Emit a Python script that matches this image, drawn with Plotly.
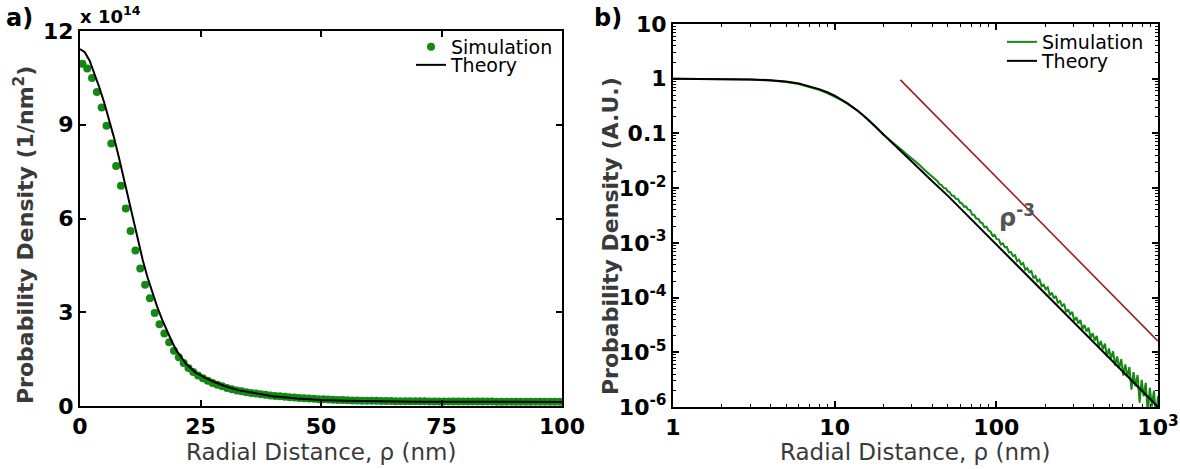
import numpy as np
import plotly.graph_objects as go

W, H = 1180, 469

# ---------------- data: panel a (linear) ----------------
sim_a_rho = np.arange(0.5, 100, 1.0)
sim_a = [10.95, 10.80, 10.50, 10.05, 9.55, 8.97, 8.40, 7.68, 7.05, 6.32,
         5.60, 4.98, 4.40, 3.88, 3.45, 2.98, 2.62, 2.32, 2.04, 1.77,
         1.56, 1.38, 1.22, 1.09, 0.98, 0.89, 0.81, 0.74, 0.68, 0.63,
         0.58, 0.54, 0.50, 0.47, 0.44, 0.42, 0.40, 0.38, 0.36, 0.34,
         0.32, 0.31, 0.30, 0.28, 0.27, 0.26, 0.25, 0.24, 0.23, 0.22,
         0.215, 0.21, 0.20, 0.195, 0.19, 0.185, 0.18, 0.175, 0.17, 0.17,
         0.165, 0.165, 0.16, 0.16, 0.16, 0.155, 0.155, 0.155, 0.15, 0.15,
         0.15, 0.15, 0.148, 0.148, 0.146, 0.146, 0.145, 0.145, 0.144, 0.144,
         0.143, 0.143, 0.142, 0.142, 0.141, 0.141, 0.140, 0.140, 0.140, 0.140,
         0.140, 0.139, 0.139, 0.139, 0.139, 0.138, 0.138, 0.138, 0.138, 0.138]

theo_a_rho = [0, 1, 2, 3, 4, 5, 6, 7, 8, 9, 10, 11, 12, 13, 14, 15, 16, 17, 18, 19,
              20, 22, 24, 26, 28, 30, 33, 36, 40, 45, 50, 55, 60, 70, 80, 90, 100]
theo_a = [11.42, 11.32, 11.05, 10.65, 10.2, 9.72, 9.2, 8.62, 8.0, 7.35, 6.65, 5.97,
          5.3, 4.68, 4.12, 3.62, 3.18, 2.78, 2.42, 2.08, 1.78, 1.35, 1.07, 0.9, 0.76,
          0.64, 0.5, 0.41, 0.31, 0.24, 0.19, 0.165, 0.15, 0.14, 0.135, 0.13, 0.13]

# ---------------- data: panel b (log-log) ----------------
sim_b_rho_head = [1, 2, 3, 4, 5, 6, 7, 8, 9, 10, 11, 12, 13, 14, 15, 16, 18, 20,
                  22, 24, 26, 28, 30, 33, 36, 39]
sim_b_head = [1.0, 0.99, 0.965, 0.93, 0.875, 0.80, 0.71, 0.625, 0.545, 0.47, 0.405,
              0.35, 0.30, 0.255, 0.215, 0.182, 0.131, 0.095, 0.076, 0.061, 0.050,
              0.041, 0.035, 0.0275, 0.0215, 0.0172]
sim_b_rho_tail = np.geomspace(42, 1000, 110)
sim_b_tail = [
    0.0140, 0.0134, 0.0118, 0.0114, 0.0101, 0.0100, 0.00880, 0.00841, 0.00733, 0.00729,
    0.00641, 0.00637, 0.00545, 0.00530, 0.00457, 0.00463, 0.00404, 0.00396, 0.00329, 0.00323,
    0.00279, 0.00277, 0.00237, 0.00230, 0.00193, 0.00197, 0.00168, 0.00161, 0.00134, 0.00140,
    0.00117, 0.00116, 0.000939, 0.000981, 0.000831, 0.000839, 0.000669, 0.000679, 0.000574, 0.000597,
    0.000462, 0.000492, 0.000401, 0.000426, 0.000322, 0.000345, 0.000289, 0.000306, 0.000225, 0.000247,
    0.000197, 0.000213, 0.000162, 0.000171, 0.000142, 0.000154, 0.000110, 0.000124, 9.67e-5, 1.07e-4,
    7.88e-5, 8.83e-5, 6.92e-5, 7.68e-5, 5.44e-5, 6.11e-5, 4.93e-5, 5.47e-5, 3.79e-5, 4.39e-5,
    3.37e-5, 3.89e-5, 2.64e-5, 3.16e-5, 2.40e-5, 2.80e-5, 1.84e-5, 2.23e-5, 1.64e-5, 2.00e-5,
    1.25e-5, 1.61e-5, 1.13e-5, 1.44e-5, 8.42e-6, 1.17e-5, 7.70e-6, 1.04e-5, 5.71e-6, 8.36e-6,
    5.11e-6, 7.50e-6, 3.76e-6, 6.00e-6, 3.52e-6, 5.37e-6, 2.08e-6, 4.34e-6, 2.39e-6, 3.84e-6,
    1.20e-6, 3.14e-6, 1.57e-6, 2.77e-6, 7.5e-7, 2.25e-6, 1.03e-6, 2.00e-6, 6.7e-7, 1.59e-6]

theo_b_rho = [1, 2, 3, 4, 5, 6, 7, 8, 9, 10, 12, 14, 16, 18, 20, 22, 25, 30, 35, 40, 50,
              70, 100, 150, 200, 300, 500, 700, 1000]
theo_b = [1.0, 0.99, 0.97, 0.94, 0.89, 0.82, 0.73, 0.645, 0.565, 0.49, 0.355, 0.255,
          0.182, 0.13, 0.094, 0.073, 0.05, 0.03, 0.0195, 0.0135, 0.0073, 0.0027, 9.5e-4,
          2.85e-4, 1.22e-4, 3.65e-5, 7.9e-6, 2.9e-6, 1.0e-6]

guide_rho = [25.5, 1000]
guide_val = [0.95, 1.6e-5]

x_ticks_a = [0, 25, 50, 75, 100]
y_ticks_a = [0, 3, 6, 9, 12]
x_ticks_b = [1, 10, 100, 1000]
x_ticktext_b = ["1", "10", "100", "10<sup>3</sup>"]
y_ticks_b = [1e-6, 1e-5, 1e-4, 1e-3, 1e-2, 0.1, 1, 10]
y_ticktext_b = ["10<sup>-6</sup>", "10<sup>-5</sup>", "10<sup>-4</sup>", "10<sup>-3</sup>",
                "10<sup>-2</sup>", "0.1", "1", "10"]

GREEN = "#128a12"
FONT = "DejaVu Sans"


def px(x):
    return x / W


def py(y):
    return 1 - y / H


fig = go.Figure()
fig.add_trace(go.Scatter(x=sim_a_rho, y=sim_a, mode="markers", name="Simulation",
                         marker=dict(color=GREEN, size=8), xaxis="x", yaxis="y",
                         legend="legend"))
fig.add_trace(go.Scatter(x=theo_a_rho, y=theo_a, mode="lines", name="Theory",
                         line=dict(color="black", width=2), xaxis="x", yaxis="y",
                         legend="legend2"))
fig.add_trace(go.Scatter(x=sim_b_rho_head + list(sim_b_rho_tail), y=sim_b_head + sim_b_tail,
                         mode="lines", name="Simulation",
                         line=dict(color=GREEN, width=2), xaxis="x2", yaxis="y2",
                         legend="legend3"))
fig.add_trace(go.Scatter(x=theo_b_rho, y=theo_b, mode="lines", name="Theory",
                         line=dict(color="black", width=2), xaxis="x2", yaxis="y2",
                         legend="legend4"))
fig.add_trace(go.Scatter(x=guide_rho, y=guide_val, mode="lines", showlegend=False,
                         line=dict(color="#a01e1e", width=1.6), xaxis="x2", yaxis="y2"))

tickfont = dict(family=FONT, size=22, color="black", weight="bold")
common = dict(showline=True, linecolor="black", linewidth=2, mirror="ticks",
              ticks="inside", ticklen=6, tickwidth=1.5, tickcolor="black",
              showgrid=False, zeroline=False, tickfont=tickfont, automargin=False)

minor_x = [m * d for d in (1, 10, 100) for m in range(2, 10)]
minor_y = [m * d for d in (1e-6, 1e-5, 1e-4, 1e-3, 1e-2, 0.1, 1) for m in range(2, 10)]

fig.update_layout(
    width=W, height=H, margin=dict(l=0, r=0, t=0, b=0, autoexpand=False),
    paper_bgcolor="white", plot_bgcolor="white",
    font=dict(family=FONT, color="black"),
    xaxis=dict(domain=[px(80), px(562)], range=[0, 100], tickvals=x_ticks_a,
               anchor="y", **common),
    yaxis=dict(domain=[py(406), py(31)], range=[0, 12], tickvals=y_ticks_a,
               anchor="x", **common),
    xaxis2=dict(domain=[px(673), px(1158)], type="log", range=[0, 3],
                tickvals=x_ticks_b, ticktext=x_ticktext_b, anchor="y2",
                minor=dict(ticks="inside", ticklen=3, tickwidth=1, tickcolor="black",
                           tickvals=minor_x),
                **common),
    yaxis2=dict(domain=[py(407), py(24)], type="log", range=[-6, 1],
                tickvals=y_ticks_b, ticktext=y_ticktext_b, anchor="x2",
                minor=dict(ticks="inside", ticklen=3, tickwidth=1, tickcolor="black",
                           tickvals=minor_y),
                **common),
)

leg_common = dict(bgcolor="rgba(0,0,0,0)", borderwidth=0, xanchor="left", yanchor="middle",
                  font=dict(family=FONT, size=19, color="black"))
fig.update_layout(
    legend=dict(x=px(411), y=py(47), **leg_common),
    legend2=dict(x=px(411), y=py(65), **leg_common),
    legend3=dict(x=px(1002), y=py(42), **leg_common),
    legend4=dict(x=px(1002), y=py(61), **leg_common),
)

title_font = dict(family=FONT, size=23, color="#3a3a3a")
ytitle_font = dict(family=FONT, size=22, color="#3a3a3a", weight="bold")
annos = [
    dict(x=px(4), y=py(18), text="a)", xanchor="left", yanchor="middle",
         font=dict(family=FONT, size=24, color="black", weight="bold")),
    dict(x=px(592), y=py(18), text="b)", xanchor="left", yanchor="middle",
         font=dict(family=FONT, size=24, color="black", weight="bold")),
    dict(x=px(78), y=py(15), text="x 10<sup>14</sup>", xanchor="left", yanchor="middle",
         font=dict(family=FONT, size=18, color="black", weight="bold")),
    dict(x=px(321), y=py(452), text="Radial Distance, ρ (nm)", xanchor="center",
         yanchor="middle", font=title_font),
    dict(x=px(915), y=py(452), text="Radial Distance, ρ (nm)", xanchor="center",
         yanchor="middle", font=title_font),
    dict(x=px(24), y=py(235), text="Probability Density (1/nm<sup>2</sup>)", textangle=-90,
         xanchor="center", yanchor="middle", font=ytitle_font),
    dict(x=px(610), y=py(236), text="Probability Density (A.U.)", textangle=-90,
         xanchor="center", yanchor="middle", font=ytitle_font),
    dict(x=px(997), y=py(216), text="ρ<sup>-3</sup>", xanchor="left", yanchor="middle",
         font=dict(family=FONT, size=24, color="#555555", weight="bold")),
]
for a in annos:
    a.update(xref="paper", yref="paper", showarrow=False)
fig.update_layout(annotations=annos)

fig.write_html("out.html", config={"displayModeBar": False},
               post_script="document.body.style.margin='0';document.body.style.overflow='hidden';")
